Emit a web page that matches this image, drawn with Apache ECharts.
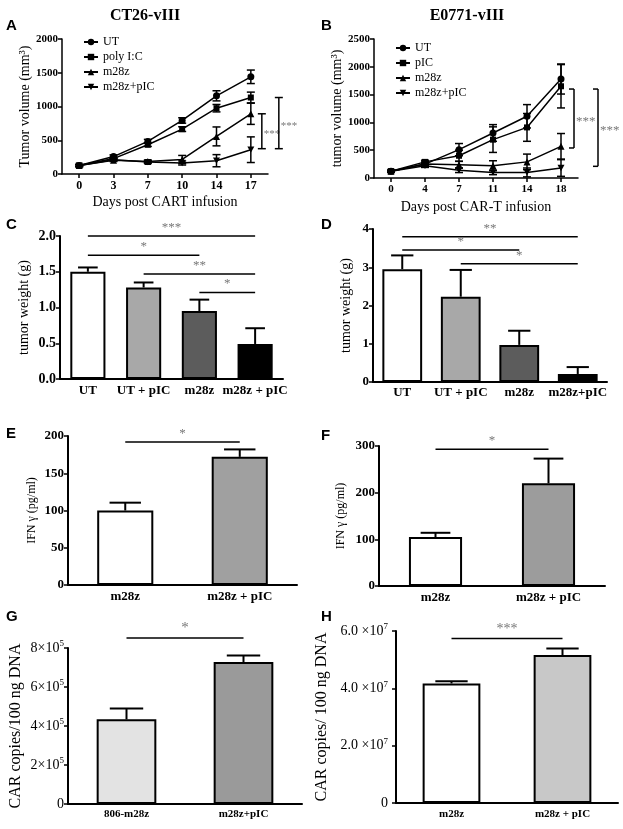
<!DOCTYPE html>
<html><head><meta charset="utf-8">
<script src="https://cdn.jsdelivr.net/npm/echarts@6/dist/echarts.min.js"></script>
<style>html,body{margin:0;padding:0;background:#fff}#c{width:623px;height:829px}</style>
</head><body><div id="c"></div>
<script>
const SERIF = '"Liberation Serif", "Times New Roman", serif';
const SANS = '"Liberation Sans", Arial, sans-serif';

// ---------- Panel A (CT26-vIII) ----------
const daysA = ['0', '3', '7', '10', '14', '17'];
const utA = [125, 258, 483, 793, 1158, 1440];
const utAErr = [15, 25, 30, 40, 75, 100];
const picA = [125, 228, 433, 665, 975, 1133];
const picAErr = [15, 20, 25, 35, 55, 80];
const m28zA = [125, 205, 187, 215, 557, 892];
const m28zAErr = [15, 20, 20, 60, 140, 157];
const combA = [125, 212, 177, 163, 197, 360];
const combAErr = [15, 15, 20, 30, 90, 190];
const bracketA = [[5, 892, 375], [5, 1133, 375]];
const bracketALabels = ['***', '***'];

// ---------- Panel B (E0771-vIII) ----------
const daysB = ['0', '4', '7', '11', '14', '18'];
const utB = [120, 250, 510, 810, 1110, 1780];
const utBErr = [20, 40, 110, 150, 210, 270];
const picB = [120, 290, 400, 690, 910, 1650];
const picBErr = [20, 30, 100, 230, 250, 390];
const m28zB = [120, 250, 240, 220, 290, 570];
const m28zBErr = [15, 30, 60, 90, 140, 230];
const combB = [120, 220, 138, 100, 100, 180];
const combBErr = [15, 30, 40, 40, 80, 150];
const bracketB = [[5, 1600, 540], [5, 1600, 210]];
const bracketBLabels = ['***', '***'];

// ---------- Panel C ----------
const catC = ['UT', 'UT + pIC', 'm28z', 'm28z + pIC'];
const valC = [1.50, 1.28, 0.95, 0.49];
const errC = [0.06, 0.07, 0.16, 0.22];
const sigC = [[0, 3, 2.0], [0, 2, 1.73], [1, 3, 1.47], [2, 3, 1.21]];
const sigCLabels = ['***', '*', '**', '*'];

// ---------- Panel D ----------
const catD = ['UT', 'UT + pIC', 'm28z', 'm28z+pIC'];
const valD = [2.95, 2.23, 0.97, 0.21];
const errD = [0.36, 0.70, 0.37, 0.18];
const sigD = [[0, 3, 3.8], [0, 2, 3.45], [1, 3, 3.09]];
const sigDLabels = ['**', '*', '*'];

// ---------- Panel E ----------
const catE = ['m28z', 'm28z + pIC'];
const valE = [100, 172];
const errE = [10.5, 10];
const sigE = [[0, 1, 192]];
const sigELabels = ['*'];

// ---------- Panel F ----------
const catF = ['m28z', 'm28z + pIC'];
const valF = [105, 220];
const errF = [9, 53];
const sigF = [[0, 1, 293]];
const sigFLabels = ['*'];

// ---------- Panel G ----------
const catG = ['806-m28z', 'm28z+pIC'];
const valG = [434000, 728000];
const errG = [56000, 34000];
const sigG = [[0, 1, 851000]];
const sigGLabels = ['*'];

// ---------- Panel H ----------
const catH = ['m28z', 'm28z + pIC'];
const valH = [41700000, 51600000];
const errH = [800000, 2300000];
const sigH = [[0, 1, 57400000]];
const sigHLabels = ['***'];

// ================= build =================
const grids = [
  {left: 62, top: 39, width: 206, height: 135},   // A
  {left: 374, top: 39, width: 204, height: 139},  // B
  {left: 60, top: 236, width: 223, height: 143},  // C
  {left: 373, top: 229, width: 234, height: 153}, // D
  {left: 68, top: 436, width: 229, height: 149},  // E
  {left: 379, top: 446, width: 226, height: 140}, // F
  {left: 68, top: 648, width: 234, height: 156},  // G
  {left: 396, top: 631, width: 222, height: 172}  // H
];

function xCat(gi, data, o) {
  return Object.assign({
    gridIndex: gi, type: 'category', data: data, boundaryGap: true,
    axisLine: {show: true, lineStyle: {color: '#000', width: o.lw || 2}},
    axisTick: {show: !!o.ticks, alignWithLabel: true, length: 4, lineStyle: {color: '#000', width: 1.5}},
    axisLabel: {color: '#000', fontFamily: SERIF, fontWeight: 'bold', fontSize: o.fs || 13, margin: o.margin || 5, interval: 0},
    splitLine: {show: false}
  }, o.extra || {});
}
function yVal(gi, o) {
  return Object.assign({
    gridIndex: gi, type: 'value', min: o.min, max: o.max, interval: o.interval,
    axisLine: {show: true, lineStyle: {color: '#000', width: o.lw || 2}},
    axisTick: {show: true, length: 4, lineStyle: {color: '#000', width: 1.5}},
    axisLabel: Object.assign({color: '#000', fontFamily: SERIF, fontWeight: 'bold', fontSize: o.fs || 13, margin: 4,
      formatter: v => String(v)}, o.label || {}),
    splitLine: {show: false},
    name: o.name, nameLocation: 'middle', nameGap: o.nameGap, nameRotate: 90,
    nameTextStyle: Object.assign({color: '#000', fontFamily: SERIF, fontSize: o.nfs || 14}, o.nts || {})
  }, o.extra || {});
}

const xAxes = [
  xCat(0, daysA, {lw: 1.5, ticks: true, fs: 12, margin: 6, extra: {
    name: 'Days post CART infusion', nameLocation: 'middle', nameGap: 21,
    nameTextStyle: {color: '#000', fontFamily: SERIF, fontSize: 14}}}),
  xCat(1, daysB, {lw: 1.5, ticks: true, fs: 11, margin: 6, extra: {
    name: 'Days post CAR-T infusion', nameLocation: 'middle', nameGap: 22,
    nameTextStyle: {color: '#000', fontFamily: SERIF, fontSize: 14}}}),
  xCat(2, catC, {fs: 13, margin: 5}),
  xCat(3, catD, {fs: 13, margin: 4}),
  xCat(4, catE, {fs: 13, margin: 5}),
  xCat(5, catF, {fs: 13, margin: 5}),
  xCat(6, catG, {fs: 11, margin: 5}),
  xCat(7, catH, {fs: 11, margin: 6})
];

const supRich = {
  b: {fontFamily: SERIF, fontSize: 14, color: '#000'},
  s: {fontFamily: SERIF, fontSize: 9, color: '#000', padding: [0, 0, 8, 0]}
};
const yAxes = [
  yVal(0, {min: 0, max: 2000, interval: 500, lw: 1.5, fs: 11, name: 'Tumor volume (mm³)', nameGap: 28, nfs: 14}),
  yVal(1, {min: 0, max: 2500, interval: 500, lw: 1.5, fs: 11, name: 'tumor volume (mm³)', nameGap: 30, nfs: 14}),
  yVal(2, {min: 0, max: 2, interval: 0.5, fs: 14, name: 'tumor weight (g)', nameGap: 29, nfs: 14,
    label: {formatter: v => v.toFixed(1)}}),
  yVal(3, {min: 0, max: 4, interval: 1, fs: 13, name: 'tumor weight (g)', nameGap: 20, nfs: 14}),
  yVal(4, {min: 0, max: 200, interval: 50, fs: 13, name: 'IFN γ (pg/ml)', nameGap: 30, nfs: 12}),
  yVal(5, {min: 0, max: 300, interval: 100, fs: 13, name: 'IFN γ (pg/ml)', nameGap: 32, nfs: 12}),
  yVal(6, {min: 0, max: 800000, interval: 200000, fs: 14, name: 'CAR copies/100 ng DNA', nameGap: 44, nfs: 16,
    label: {fontWeight: 'normal', rich: supRich,
      formatter: v => v === 0 ? '{b|0}' : '{b|' + (v / 100000) + '×10}{s|5}'}}),
  yVal(7, {min: 0, max: 60000000, interval: 20000000, fs: 14, name: 'CAR copies/ 100 ng DNA', nameGap: 66, nfs: 16,
    label: {fontWeight: 'normal', rich: supRich, margin: 8,
      formatter: v => v === 0 ? '{b|0}' : '{b|' + (v / 10000000).toFixed(1) + ' ×10}{s|7}'}})
];

const series = [];
const invTri = 'path://M0,0L10,0L5,9Z';
function lineSeries(name, data, err, symbol, gi, size) {
  series.push({
    type: 'line', name: name, data: data, xAxisIndex: gi, yAxisIndex: gi,
    symbol: symbol, symbolSize: size || 7, symbolKeepAspect: true,
    lineStyle: {color: '#000', width: 1.5}, itemStyle: {color: '#000'}, z: 3, animation: false
  });
  series.push({
    type: 'custom', xAxisIndex: gi, yAxisIndex: gi, silent: true, z: 2,
    data: data.map((v, i) => [i, v, err[i]]),
    renderItem: (p, api) => {
      const t = api.coord([api.value(0), api.value(1) + api.value(2)]);
      const b = api.coord([api.value(0), api.value(1) - api.value(2)]);
      const hw = 4, st = {stroke: '#000', lineWidth: 1.5};
      return {type: 'group', children: [
        {type: 'line', shape: {x1: t[0], y1: t[1], x2: b[0], y2: b[1]}, style: st},
        {type: 'line', shape: {x1: t[0] - hw, y1: t[1], x2: t[0] + hw, y2: t[1]}, style: st},
        {type: 'line', shape: {x1: b[0] - hw, y1: b[1], x2: b[0] + hw, y2: b[1]}, style: st}
      ]};
    }
  });
}
lineSeries('UT', utA, utAErr, 'circle', 0);
lineSeries('poly I:C', picA, picAErr, 'rect', 0, 6);
lineSeries('m28z', m28zA, m28zAErr, 'triangle', 0);
lineSeries('m28z+pIC', combA, combAErr, invTri, 0);
lineSeries('UT', utB, utBErr, 'circle', 1);
lineSeries('pIC', picB, picBErr, 'rect', 1, 6);
lineSeries('m28z', m28zB, m28zBErr, 'triangle', 1);
lineSeries('m28z+pIC', combB, combBErr, invTri, 1);

// brackets beside line charts
function brackets(gi, data, labels, offsets, shape, fs) {
  series.push({
    type: 'custom', xAxisIndex: gi, yAxisIndex: gi, silent: true, clip: false, z: 4,
    data: data,
    renderItem: (p, api) => {
      const i = p.dataIndex;
      const t = api.coord([api.value(0), api.value(1)]);
      const b = api.coord([api.value(0), api.value(2)]);
      const x = t[0] + offsets[i];
      const st = {stroke: '#000', lineWidth: 1.5};
      const ch = [{type: 'line', shape: {x1: x, y1: t[1], x2: x, y2: b[1]}, style: st}];
      if (shape === 'I') {
        ch.push({type: 'line', shape: {x1: x - 4, y1: t[1], x2: x + 4, y2: t[1]}, style: st});
        ch.push({type: 'line', shape: {x1: x - 4, y1: b[1], x2: x + 4, y2: b[1]}, style: st});
      } else {
        ch.push({type: 'line', shape: {x1: x - 5, y1: t[1], x2: x, y2: t[1]}, style: st});
        ch.push({type: 'line', shape: {x1: x - 5, y1: b[1], x2: x, y2: b[1]}, style: st});
      }
      ch.push({type: 'text', style: {text: labels[i], x: x + 2, y: (t[1] + b[1]) / 2 + 3,
        fill: '#777', font: fs + 'px ' + SERIF, textAlign: 'left', textVerticalAlign: 'middle'}});
      return {type: 'group', children: ch};
    }
  });
}
brackets(0, bracketA, bracketALabels, [11, 28], 'I', 11);
brackets(1, bracketB, bracketBLabels, [13, 37], ']', 13);

// bar panels
function barPanel(gi, vals, errs, colors, barFrac, sig, sigLabels, sigFs) {
  series.push({
    type: 'bar', xAxisIndex: gi, yAxisIndex: gi, barWidth: (barFrac * 100) + '%',
    data: vals.map((v, i) => ({value: v, itemStyle: {color: colors[i]}})),
    itemStyle: {borderColor: '#000', borderWidth: 2}, z: 2, animation: false
  });
  series.push({
    type: 'custom', xAxisIndex: gi, yAxisIndex: gi, silent: true, z: 3,
    data: vals.map((v, i) => [i, v, errs[i]]),
    renderItem: (p, api) => {
      const t = api.coord([api.value(0), api.value(1) + api.value(2)]);
      const b = api.coord([api.value(0), api.value(1)]);
      const hw = api.size([1, 0])[0] * barFrac * 0.28;
      const st = {stroke: '#000', lineWidth: 2};
      return {type: 'group', children: [
        {type: 'line', shape: {x1: t[0], y1: t[1], x2: b[0], y2: b[1]}, style: st},
        {type: 'line', shape: {x1: t[0] - hw, y1: t[1], x2: t[0] + hw, y2: t[1]}, style: st}
      ]};
    }
  });
  series.push({
    type: 'custom', xAxisIndex: gi, yAxisIndex: gi, silent: true, clip: false, z: 3,
    data: sig,
    renderItem: (p, api) => {
      const a = api.coord([api.value(0), api.value(2)]);
      const c = api.coord([api.value(1), api.value(2)]);
      return {type: 'group', children: [
        {type: 'line', shape: {x1: a[0], y1: a[1], x2: c[0], y2: c[1]}, style: {stroke: '#000', lineWidth: 1.5}},
        {type: 'text', style: {text: sigLabels[p.dataIndex], x: (a[0] + c[0]) / 2, y: a[1] - 2,
          fill: '#777', font: sigFs + 'px ' + SERIF, textAlign: 'center', textVerticalAlign: 'bottom'}}
      ]};
    }
  });
}
barPanel(2, valC, errC, ['#ffffff', '#a8a8a8', '#5c5c5c', '#000000'], 0.63, sigC, sigCLabels, 13);
barPanel(3, valD, errD, ['#ffffff', '#a8a8a8', '#5c5c5c', '#000000'], 0.68, sigD, sigDLabels, 13);
barPanel(4, valE, errE, ['#ffffff', '#a0a0a0'], 0.49, sigE, sigELabels, 13);
barPanel(5, valF, errF, ['#ffffff', '#9c9c9c'], 0.47, sigF, sigFLabels, 13);
barPanel(6, valG, errG, ['#e3e3e3', '#9a9a9a'], 0.51, sigG, sigGLabels, 15);
barPanel(7, valH, errH, ['#ffffff', '#c8c8c8'], 0.52, sigH, sigHLabels, 14);

const letter = (t, l, tp) => ({text: t, left: l, top: tp, textStyle: {fontFamily: SANS, fontWeight: 'bold', fontSize: 15, color: '#000'}});
const titles = [
  {text: 'CT26-vIII', left: 140, top: 3, textAlign: 'center', textStyle: {fontFamily: SERIF, fontWeight: 'bold', fontSize: 16, color: '#000'}},
  {text: 'E0771-vIII', left: 462, top: 3, textAlign: 'center', textStyle: {fontFamily: SERIF, fontWeight: 'bold', fontSize: 16, color: '#000'}},
  letter('A', 1, 13), letter('B', 316, 13),
  letter('C', 1, 212), letter('D', 316, 212),
  letter('E', 1, 421), letter('F', 316, 423),
  letter('G', 1, 604), letter('H', 316, 604)
];

const legendStyle = {orient: 'vertical', itemWidth: 14, itemHeight: 8, itemGap: 3, selectedMode: false,
  textStyle: {fontFamily: SERIF, fontSize: 12, color: '#000', padding: [0, 0, 0, 0]}};
const legends = [
  Object.assign({data: ['UT', 'poly I:C', 'm28z', 'm28z+pIC'], left: 78, top: 31}, legendStyle),
  Object.assign({data: ['UT', 'pIC', 'm28z', 'm28z+pIC'], left: 390, top: 37}, legendStyle)
];

const chart = echarts.init(document.getElementById('c'), null, {renderer: 'canvas'});
chart.setOption({
  animation: false,
  backgroundColor: '#fff',
  title: titles,
  legend: legends,
  grid: grids,
  xAxis: xAxes,
  yAxis: yAxes,
  series: series
});
</script></body></html>
